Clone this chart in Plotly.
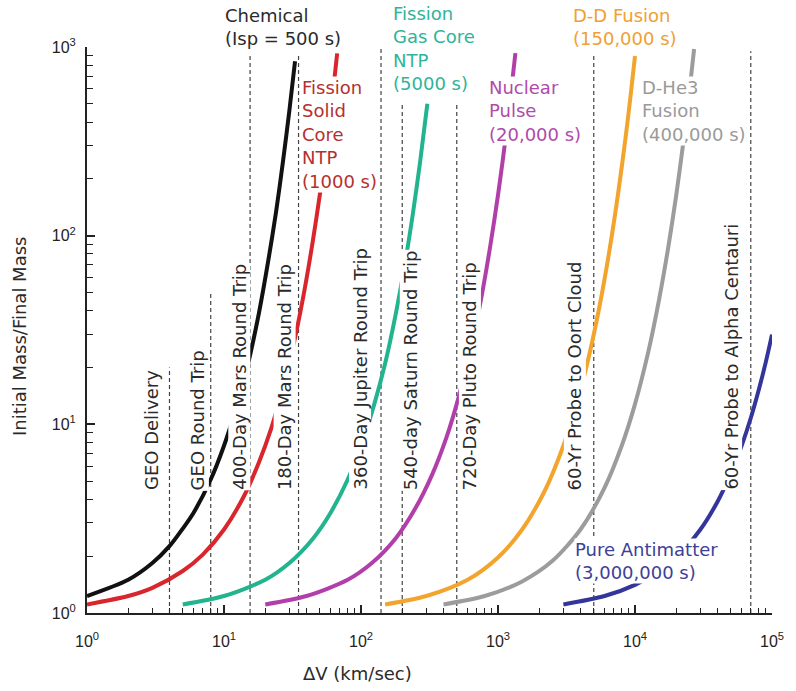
import plotly.graph_objects as go

# ---- propulsion systems: (delta-V [km/s], initial/final mass) samples along each curve ----
sys_names = ["Chemical", "Fission Solid Core NTP", "Fission Gas Core NTP",
             "Nuclear Pulse", "D-D Fusion", "D-He3 Fusion", "Pure Antimatter"]
sys_labels = ["Chemical<br>(Isp = 500 s)",
              "Fission<br>Solid<br>Core<br>NTP<br>(1000 s)",
              "Fission<br>Gas Core<br>NTP<br>(5000 s)",
              "Nuclear<br>Pulse<br>(20,000 s)",
              "D-D Fusion<br>(150,000 s)",
              "D-He3<br>Fusion<br>(400,000 s)",
              "Pure Antimatter<br>(3,000,000 s)"]

chem_dv = [1, 2, 3, 4, 5, 6, 8, 10, 12, 15, 18, 21, 24, 27, 30, 33]
chem_mr = [1.23, 1.5, 1.84, 2.26, 2.8, 3.4, 5.1, 7.7, 11.6, 21, 39, 73, 134, 250, 460, 840]

solid_dv = [1, 2, 3, 5, 7, 10, 14, 18, 22, 27, 32, 38, 44, 50, 57, 64, 67]
solid_mr = [1.11, 1.23, 1.36, 1.67, 2.04, 2.77, 4.17, 6.3, 9.4, 15.7, 26, 48, 89, 164, 334, 680, 925]

gas_dv = [5, 10, 20, 30, 45, 60, 80, 100, 125, 150, 180, 210, 240, 270, 305]
gas_mr = [1.11, 1.23, 1.5, 1.84, 2.5, 3.4, 5.1, 7.7, 12.8, 21, 39, 72, 133, 246, 500]

pulse_dv = [20, 40, 80, 120, 180, 250, 330, 420, 520, 640, 760, 880, 1000, 1150, 1340]
pulse_mr = [1.11, 1.23, 1.5, 1.84, 2.5, 3.6, 5.4, 8.5, 14.2, 26, 48, 89, 164, 352, 928]

dd_dv = [150, 300, 600, 1000, 1500, 2200, 3000, 3800, 4600, 5500, 6500, 7500, 8500, 9300, 10000]
dd_mr = [1.11, 1.23, 1.5, 1.97, 2.77, 4.46, 7.7, 13.2, 22.8, 42, 83, 164, 323, 557, 896]

dhe_dv = [400, 800, 1500, 2500, 4000, 6000, 8000, 10000, 12500, 15000, 17500, 20000, 22500, 25000, 27000]
dhe_mr = [1.11, 1.23, 1.47, 1.89, 2.77, 4.62, 7.7, 12.8, 24.2, 46, 87, 164, 310, 586, 975]

anti_dv = [3000, 6000, 10000, 15000, 20000, 30000, 40000, 50000, 60000, 70000, 80000, 90000, 100000]
anti_mr = [1.11, 1.23, 1.41, 1.67, 1.97, 2.77, 3.89, 5.47, 7.7, 10.8, 15.2, 21.3, 29.9]

sys_dv = [chem_dv, solid_dv, gas_dv, pulse_dv, dd_dv, dhe_dv, anti_dv]
sys_mr = [chem_mr, solid_mr, gas_mr, pulse_mr, dd_mr, dhe_mr, anti_mr]

# ---- missions: required delta-V [km/s] and height of the marker line ----
mission_names = ["GEO Delivery", "GEO Round Trip", "400-Day Mars Round Trip",
                 "180-Day Mars Round Trip", "360-Day Jupiter Round Trip",
                 "540-day Saturn Round Trip", "720-Day Pluto Round Trip",
                 "60-Yr Probe to Oort Cloud", "60-Yr Probe to Alpha Centauri"]
mission_dv = [4, 8, 15.5, 35, 140, 200, 500, 5000, 70000]
mission_top = [20, 50, 900, 900, 1000, 500, 500, 900, 950]

x_ticks = [1, 10, 100, 1000, 10000, 100000]
x_ticktext = ["10<sup>0</sup>", "10<sup>1</sup>", "10<sup>2</sup>",
              "10<sup>3</sup>", "10<sup>4</sup>", "10<sup>5</sup>"]
y_ticks = [1, 10, 100, 1000]
y_ticktext = ["10<sup>0</sup>", "10<sup>1</sup>", "10<sup>2</sup>", "10<sup>3</sup>"]

# ---- styling ----
curve_colors = ["#111111", "#d9262c", "#22b38f", "#b23ea9", "#f2a42c", "#9c9c9c", "#33359a"]
text_colors = ["#2a2a2a", "#b5302f", "#2fb499", "#b04aab", "#f0a032", "#9a9a9a", "#3d4098"]
FONT = "DejaVu Sans"

W, H = 796, 691
L, R, T, B = 87, 14, 47, 78
PW, PH = W - L - R, H - T - B


def paper(xp, yp):
    """Convert a pixel position in the page to paper coordinates."""
    return (xp - L) / PW, (H - B - yp) / PH


fig = go.Figure()

# mission marker lines
for name, dv, top in zip(mission_names, mission_dv, mission_top):
    fig.add_trace(go.Scatter(
        x=[dv, dv], y=[1, top], mode="lines", name=name, showlegend=False,
        line=dict(color="#444444", width=1.2, dash="4px,3px"), hoverinfo="skip"))

# rocket-equation curves
for name, dv, mr, col in zip(sys_names, sys_dv, sys_mr, curve_colors):
    fig.add_trace(go.Scatter(
        x=dv, y=mr, mode="lines", name=name, showlegend=False,
        line=dict(color=col, width=4, shape="spline", smoothing=0.8)))

annotations = []

# propulsion-system labels (left-aligned blocks, box top-left corner in pixels)
sys_label_pos = [(226, 4), (304, 76), (396, 2), (494, 76), (579, 4), (649, 76), (581, 538)]
for text, col, (xp, yp) in zip(sys_labels, text_colors, sys_label_pos):
    xa, ya = paper(xp, yp)
    annotations.append(dict(
        text=text, xref="paper", yref="paper", x=xa, y=ya,
        xanchor="left", yanchor="top", align="left", showarrow=False,
        font=dict(family=FONT, size=18, color=col),
        bgcolor="white", borderpad=0))

# mission labels, written vertically beside their marker lines
mission_label_x = [152, 199, 241, 287, 364, 415, 475, 582, 740]
for text, xp in zip(mission_names, mission_label_x):
    xa, ya = paper(xp, 491)
    annotations.append(dict(
        text=text, xref="paper", yref="paper", x=xa, y=ya, textangle=-90,
        xanchor="center", yanchor="bottom", showarrow=False,
        font=dict(family=FONT, size=18, color="#2a2a2a"),
        bgcolor="white", borderpad=0))

# axis titles
xa, ya = paper(361, 673)
annotations.append(dict(text="ΔV (km/sec)", xref="paper", yref="paper", x=xa, y=ya,
                        xanchor="center", yanchor="middle", showarrow=False,
                        font=dict(family=FONT, size=18, color="#2a2a2a")))
xa, ya = paper(18, 336)
annotations.append(dict(text="Initial Mass/Final Mass", xref="paper", yref="paper",
                        x=xa, y=ya, textangle=-90, xanchor="center", yanchor="middle",
                        showarrow=False, font=dict(family=FONT, size=18, color="#2a2a2a")))

x_minor = [m * d for d in [1, 10, 100, 1000, 10000] for m in range(2, 10)]
y_minor = [m * d for d in [1, 10, 100] for m in range(2, 10)]

axis_common = dict(
    type="log", showgrid=False, zeroline=False, showline=True,
    linecolor="#222222", linewidth=2, ticks="inside", ticklen=8, tickwidth=1.5,
    tickcolor="#222222", tickfont=dict(family="Liberation Sans", size=16, color="#222222"))

fig.update_layout(
    width=W, height=H,
    margin=dict(l=L, r=R, t=T, b=B, pad=0),
    paper_bgcolor="white", plot_bgcolor="white",
    showlegend=False,
    xaxis=dict(range=[0, 5], tickvals=x_ticks, ticktext=x_ticktext, ticklabelstandoff=13,
               minor=dict(ticks="inside", ticklen=5, tickwidth=1.2, tickcolor="#222222",
                          tickvals=x_minor, showgrid=False),
               **axis_common),
    yaxis=dict(range=[0, 3], tickvals=y_ticks, ticktext=y_ticktext, ticklabelstandoff=6,
               minor=dict(ticks="inside", ticklen=6, tickwidth=1.2, tickcolor="#222222",
                          tickvals=y_minor, showgrid=False),
               **axis_common),
    annotations=annotations,
)

fig.write_html("out.html")
